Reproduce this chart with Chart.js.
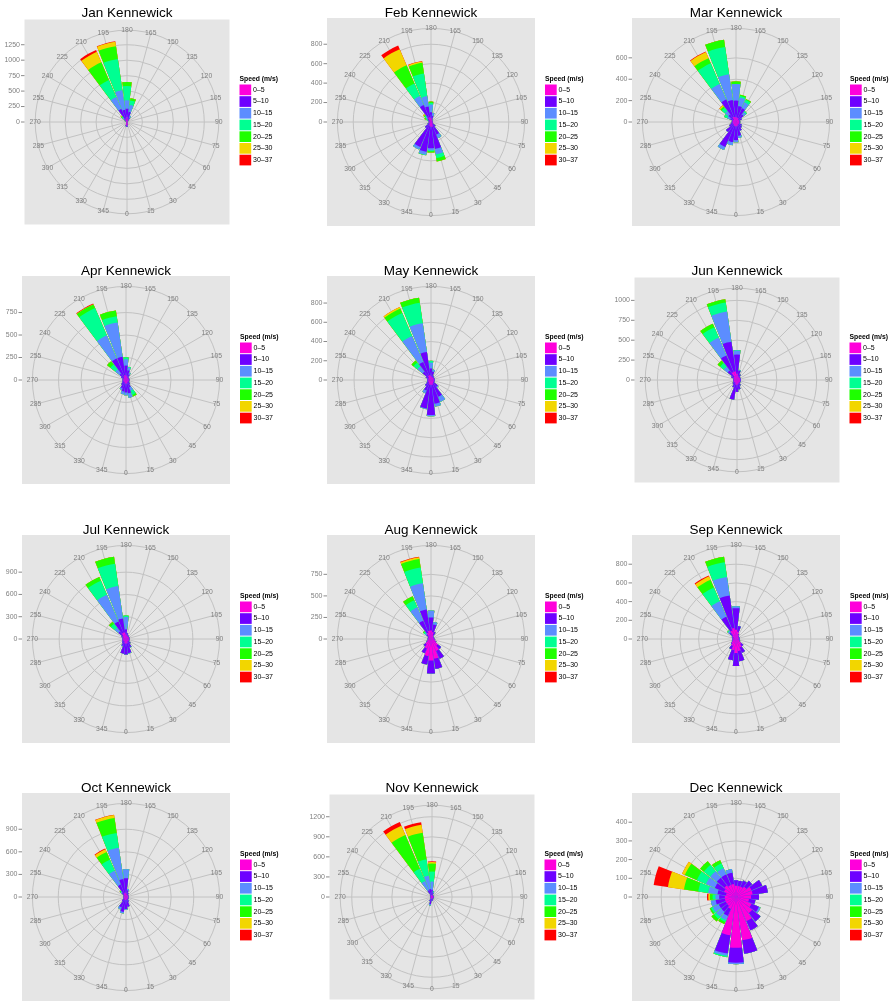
<!DOCTYPE html>
<html>
<head>
<meta charset="utf-8">
<script src="https://cdn.jsdelivr.net/npm/chart.js@4.4.1/dist/chart.umd.min.js"></script>
<style>
html, body { margin: 0; padding: 0; background: #fff; overflow: hidden; }
#page { position: relative; width: 891px; height: 1001px; overflow: hidden; }
#page canvas { position: absolute; }
</style>
</head>
<body>
<div id="page"></div>
<script>
// ---- data ----
var MONTHS = ['Jan','Feb','Mar','Apr','May','Jun','Jul','Aug','Sep','Oct','Nov','Dec'];
var STATION = 'Kennewick';
var DIRECTIONS = [0,15,30,45,60,75,90,105,120,135,150,165,180,195,210,225,240,255,270,285,300,315,330,345];
var SPEED_BINS = ['0–5','5–10','10–15','15–20','20–25','25–30','30–37'];
var SPEED_COLORS = ['#FF00DB','#6E00FF','#5C8DFF','#00FF92','#1EFF00','#F2D600','#FF0000'];
var TICK_STEPS = [250,200,200,250,200,250,300,250,200,300,300,100];

// counts per direction (0..345), one row per speed bin
var JAN = [
  [60,40,15,10,10,10,10,10,10,15,20,40,80,40,50,20,15,10,10,10,10,15,20,50],
  [20,10,5,5,5,5,5,5,5,20,60,127,135,160,180,40,15,5,5,5,5,5,10,20],
  [0,0,0,0,0,0,0,0,0,0,30,112,135,320,210,30,10,0,0,0,0,0,0,0],
  [0,0,0,0,0,0,0,0,0,0,0,72,232,510,300,20,5,0,0,0,0,0,0,0],
  [0,0,0,0,0,0,0,0,0,0,0,39,65,210,310,15,0,0,0,0,0,0,0,0],
  [0,0,0,0,0,0,0,0,0,0,0,0,0,70,185,10,0,0,0,0,0,0,0,0],
  [0,0,0,0,0,0,0,0,0,0,0,0,0,10,33,0,0,0,0,0,0,0,0,0]
];
var FEB = [
  [50,50,30,20,15,15,15,15,15,15,20,25,40,50,50,20,15,15,15,15,20,20,30,40],
  [220,230,110,40,10,5,5,5,5,5,10,40,60,112,140,30,20,10,5,10,20,60,250,270],
  [20,55,40,0,0,0,0,0,0,0,0,30,80,108,100,20,0,0,0,0,0,0,28,30],
  [10,40,0,0,0,0,0,0,0,0,0,0,15,234,140,15,20,0,0,0,0,0,0,5],
  [15,35,0,0,0,0,0,0,0,0,0,0,15,111,206,10,20,0,0,0,0,0,0,0],
  [0,0,0,0,0,0,0,0,0,0,0,0,0,15,180,9,0,0,0,0,0,0,0,0],
  [0,0,0,0,0,0,0,0,0,0,0,0,0,5,40,0,0,0,0,0,0,0,0,0]
];
var MAR = [
  [40,40,30,30,30,30,30,30,30,30,40,40,45,48,50,30,30,30,30,30,30,30,35,40],
  [130,90,60,40,30,10,10,10,30,60,100,110,155,161,179,60,30,10,10,20,40,90,220,150],
  [20,20,0,0,0,0,0,0,0,30,60,80,155,242,158,40,30,0,0,0,0,0,30,30],
  [0,0,0,0,0,0,0,0,0,10,25,15,0,257,210,40,30,0,0,0,0,0,0,0],
  [0,0,0,0,0,0,0,0,0,0,10,12,25,70,53,15,0,0,0,0,0,0,0,0],
  [0,0,0,0,0,0,0,0,0,0,0,0,0,0,62,15,0,0,0,0,0,0,0,0],
  [0,0,0,0,0,0,0,0,0,0,0,0,0,0,6,0,0,0,0,0,0,0,0,0]
];
var APR = [
  [40,40,30,30,30,30,30,30,30,30,30,40,50,55,40,30,30,30,30,30,30,30,30,40],
  [100,110,60,30,10,10,10,10,10,10,40,70,110,206,220,60,30,10,10,10,20,40,70,90],
  [30,50,40,0,0,0,0,0,0,0,20,30,70,385,280,60,0,0,0,0,0,0,20,30],
  [0,0,50,0,0,0,0,0,0,0,0,10,22,70,330,70,0,0,0,0,0,0,0,0],
  [0,0,20,0,0,0,0,0,0,0,0,0,0,66,45,47,0,0,0,0,0,0,0,0],
  [0,0,0,0,0,0,0,0,0,0,0,0,0,0,3,0,0,0,0,0,0,0,0,0],
  [0,0,0,0,0,0,0,0,0,0,0,0,0,0,7,0,0,0,0,0,0,0,0,0]
];
var MAY = [
  [50,50,40,30,30,30,30,30,30,30,30,30,40,50,50,30,30,30,30,30,30,30,40,50],
  [315,200,150,60,10,10,10,10,10,10,20,60,80,245,155,80,30,10,10,10,20,50,80,250],
  [13,30,57,10,0,0,0,0,0,0,0,20,60,302,293,70,0,0,0,0,0,0,30,6],
  [0,0,0,0,0,0,0,0,0,0,0,0,20,214,260,50,0,0,0,0,0,0,0,0],
  [0,0,0,0,0,0,0,0,0,0,0,0,0,54,50,28,0,0,0,0,0,0,0,0],
  [0,0,0,0,0,0,0,0,0,0,0,0,0,0,17,0,0,0,0,0,0,0,0,0],
  [0,0,0,0,0,0,0,0,0,0,0,0,0,0,0,0,0,0,0,0,0,0,0,0]
];
var JUN = [
  [60,50,40,40,40,40,40,40,40,40,40,50,80,110,110,50,40,40,40,40,40,40,40,60],
  [90,70,40,10,10,10,10,10,10,10,40,70,240,377,226,100,40,10,10,10,20,30,60,190],
  [0,0,0,0,0,0,0,0,0,0,0,10,50,381,244,60,0,0,0,0,0,0,0,0],
  [0,0,0,0,0,0,0,0,0,0,0,0,7,115,140,60,0,0,0,0,0,0,0,0],
  [0,0,0,0,0,0,0,0,0,0,0,0,0,42,50,40,0,0,0,0,0,0,0,0],
  [0,0,0,0,0,0,0,0,0,0,0,0,0,0,0,0,0,0,0,0,0,0,0,0],
  [0,0,0,0,0,0,0,0,0,0,0,0,0,0,0,0,0,0,0,0,0,0,0,0]
];
var JUL = [
  [60,60,40,40,40,40,40,40,40,40,40,40,60,90,90,50,40,40,40,40,40,40,40,60],
  [150,130,80,40,10,10,10,10,10,10,20,40,70,189,165,80,30,10,10,10,20,30,60,140],
  [0,10,10,0,0,0,0,0,0,0,0,0,165,443,395,60,0,0,0,0,0,0,10,0],
  [0,0,0,0,0,0,0,0,0,0,0,0,20,303,205,70,0,0,0,0,0,0,0,0],
  [0,0,0,0,0,0,0,0,0,0,0,0,0,95,55,33,0,0,0,0,0,0,0,0],
  [0,0,0,0,0,0,0,0,0,0,0,0,0,0,0,0,0,0,0,0,0,0,0,0],
  [0,0,0,0,0,0,0,0,0,0,0,0,0,0,0,0,0,0,0,0,0,0,0,0]
];
var AUG = [
  [250,230,150,100,60,40,30,30,30,30,50,80,100,100,80,40,30,30,30,30,50,80,120,200],
  [150,120,100,50,10,10,10,10,10,10,40,90,150,245,150,30,10,10,10,10,10,30,60,100],
  [0,0,0,0,0,0,0,0,0,0,0,30,80,308,170,20,0,0,0,0,0,0,0,0],
  [0,0,0,0,0,0,0,0,0,0,0,0,0,185,90,20,0,0,0,0,0,0,0,0],
  [0,0,0,0,0,0,0,0,0,0,0,0,0,99,50,10,0,0,0,0,0,0,0,0],
  [0,0,0,0,0,0,0,0,0,0,0,0,0,20,0,0,0,0,0,0,0,0,0,0],
  [0,0,0,0,0,0,0,0,0,0,0,0,0,8,0,0,0,0,0,0,0,0,0,0]
];
var SEP = [
  [150,130,100,70,40,30,30,30,30,30,50,80,100,120,100,50,30,30,30,30,40,60,80,120],
  [140,110,60,30,10,10,10,10,10,10,10,60,230,350,160,40,20,10,10,10,10,10,40,110],
  [0,0,0,0,0,0,0,0,0,0,0,0,20,200,180,20,0,0,0,0,0,0,0,0],
  [0,0,0,0,0,0,0,0,0,0,0,0,0,160,160,10,0,0,0,0,0,0,0,0],
  [0,0,0,0,0,0,0,0,0,0,0,0,0,60,90,0,0,0,0,0,0,0,0,0],
  [0,0,0,0,0,0,0,0,0,0,0,0,0,0,40,0,0,0,0,0,0,0,0,0],
  [0,0,0,0,0,0,0,0,0,0,0,0,0,0,10,0,0,0,0,0,0,0,0,0]
];
var OCT = [
  [40,30,30,30,30,30,30,30,30,30,30,30,50,60,50,30,30,30,30,30,30,30,40,40],
  [120,100,40,10,10,10,10,10,10,10,30,60,200,180,130,40,10,10,10,10,10,40,110,160],
  [10,0,0,0,0,0,0,0,0,0,0,20,120,420,200,20,0,0,0,0,0,0,30,20],
  [0,0,0,0,0,0,0,0,0,0,0,0,0,200,160,10,0,0,0,0,0,0,0,0],
  [0,0,0,0,0,0,0,0,0,0,0,0,0,200,110,10,0,0,0,0,0,0,0,0],
  [0,0,0,0,0,0,0,0,0,0,0,0,0,40,40,0,0,0,0,0,0,0,0,0],
  [0,0,0,0,0,0,0,0,0,0,0,0,0,5,10,0,0,0,0,0,0,0,0,0]
];
var NOV = [
  [20,20,20,20,20,20,20,20,20,20,20,20,30,30,30,20,20,20,20,20,20,20,20,30],
  [40,30,10,10,10,10,10,10,10,10,10,40,80,90,80,20,10,10,10,10,10,10,50,80],
  [0,0,0,0,0,0,0,0,0,0,0,20,120,200,150,0,0,0,0,0,0,0,0,20],
  [0,0,0,0,0,0,0,0,0,0,0,10,150,250,200,0,0,0,0,0,0,0,0,0],
  [0,0,0,0,0,0,0,0,0,0,0,0,120,400,550,0,0,0,0,0,0,0,0,0],
  [0,0,0,0,0,0,0,0,0,0,0,0,25,120,150,0,0,0,0,0,0,0,0,0],
  [0,0,0,0,0,0,0,0,0,0,0,0,8,40,60,0,0,0,0,0,0,0,0,0]
];
var DEC = [
  [272,234,140,110,90,70,80,90,90,70,60,60,60,70,70,79,70,54,60,60,60,60,70,207],
  [80,73,54,57,43,35,43,82,63,40,36,28,30,61,61,52,53,46,30,50,40,40,40,99],
  [8,0,0,0,10,0,0,0,0,0,0,0,0,20,36,44,52,50,20,26,35,35,25,12],
  [0,0,0,0,0,0,0,0,0,0,0,0,0,0,29,44,53,54,15,0,10,15,10,7],
  [0,0,0,0,0,0,0,0,0,0,0,0,0,0,18,25,70,77,15,0,8,17,13,0],
  [0,0,0,0,0,0,0,0,0,0,0,0,0,0,0,0,16,87,8,0,0,0,0,0],
  [0,0,0,0,0,0,0,0,0,0,0,0,0,0,0,0,0,77,7,0,0,0,0,0]
];
var MONTH_DATA = [JAN,FEB,MAR,APR,MAY,JUN,JUL,AUG,SEP,OCT,NOV,DEC];

// ---- layout ----
var PANEL_RIGHT = [230, 535, 840];
var PANEL_CY = [122.3, 380.6, 639, 897.5];
var BAR_SPAN = 13.5, GAP_SPAN = 1.5;
var BG = '#e5e5e5', GRID = '#c2c2c2', AXIS_TEXT = '#7f7f7f';
var FONT = '"Liberation Sans", Arial, Helvetica, sans-serif';

// running totals, so each layer can be drawn over the next larger one
function cumulative(rows){
  var out = [], run = DIRECTIONS.map(function(){return 0;});
  rows.forEach(function(r){
    run = run.map(function(v,i){return v + r[i];});
    out.push(run.slice());
  });
  return out;
}

// polarArea walks clockwise from the bottom: 0, 345, 330 ... 15, with a gap slot after each bar
function clockwise(values){
  var out = [];
  for(var k=0;k<DIRECTIONS.length;k++){
    out.push(values[(DIRECTIONS.length - k) % DIRECTIONS.length]);
    out.push(0);
  }
  return out;
}

var rosePlugin = {
  id: 'rose',
  beforeDraw: function(chart, args, o){
    var ctx = chart.ctx, s = chart.scales.r;
    var half = o.side/2, left = s.xCenter - half, top = s.yCenter - half;
    ctx.save();
    ctx.fillStyle = BG;
    ctx.fillRect(left, top, o.side, o.side);

    // title
    ctx.fillStyle = '#000';
    ctx.font = '13.5px ' + FONT;
    ctx.textAlign = 'center';
    ctx.textBaseline = 'alphabetic';
    ctx.fillText(o.title, s.xCenter, s.yCenter - 105.5);

    // r axis on the left edge
    ctx.font = '7px ' + FONT;
    ctx.textAlign = 'right';
    ctx.textBaseline = 'middle';
    ctx.strokeStyle = '#8a8a8a';
    ctx.lineWidth = 1;
    for(var v=0; v<=o.total; v+=o.step){
      var y = s.yCenter - s.getDistanceFromCenterForValue(v);
      ctx.fillStyle = AXIS_TEXT;
      ctx.fillText(String(v), left - 4.5, y);
      ctx.beginPath();
      ctx.moveTo(left - 3.5, y); ctx.lineTo(left, y);
      ctx.stroke();
    }

    // legend
    var lx = left + o.side + 10, ly = s.yCenter - 38, key = 11.7;
    ctx.fillStyle = '#000';
    ctx.textAlign = 'left';
    ctx.textBaseline = 'alphabetic';
    ctx.font = 'bold 6.8px ' + FONT;
    ctx.fillText('Speed (m/s)', lx, ly - 2.6);
    ctx.font = '7px ' + FONT;
    ctx.textBaseline = 'middle';
    SPEED_BINS.forEach(function(b,i){
      ctx.fillStyle = SPEED_COLORS[i];
      ctx.fillRect(lx, ly + i*key + 0.5, key, key - 1);
      ctx.fillStyle = '#000';
      ctx.fillText(b, lx + 13.5, ly + i*key + key/2);
    });
    ctx.restore();
  },
  beforeDatasetsDraw: function(chart, args, o){
    var ctx = chart.ctx, s = chart.scales.r;
    var outer = s.getDistanceFromCenterForValue(o.total*1.125);
    var shift = BAR_SPAN/2*Math.PI/180;
    ctx.save();
    ctx.strokeStyle = GRID;
    ctx.lineWidth = 1;
    // rings at the r breaks inside the data range, plus the outer ring
    var rings = [];
    for(var v=o.step; v<=o.total; v+=o.step) rings.push(s.getDistanceFromCenterForValue(v));
    rings.push(outer);
    rings.forEach(function(r){
      ctx.beginPath();
      ctx.arc(s.xCenter, s.yCenter, r, 0, Math.PI*2);
      ctx.stroke();
    });
    for(var k=0;k<DIRECTIONS.length;k++){
      var p = s.getPointPosition(k*2, outer, shift);
      ctx.beginPath();
      ctx.moveTo(s.xCenter, s.yCenter);
      ctx.lineTo(p.x, p.y);
      ctx.stroke();
    }
    ctx.restore();
  },
  afterDatasetsDraw: function(chart, args, o){
    var ctx = chart.ctx, s = chart.scales.r;
    var outer = s.getDistanceFromCenterForValue(o.total*1.125);
    var shift = BAR_SPAN/2*Math.PI/180;
    ctx.save();
    ctx.fillStyle = AXIS_TEXT;
    ctx.font = '6.8px ' + FONT;
    ctx.textAlign = 'center';
    ctx.textBaseline = 'middle';
    for(var k=0;k<DIRECTIONS.length;k++){
      var p = s.getPointPosition(k*2, outer, shift);
      ctx.fillText(String(DIRECTIONS[(DIRECTIONS.length - k) % DIRECTIONS.length]), p.x, p.y);
    }
    ctx.restore();
  }
};

var page = document.getElementById('page');

MONTHS.forEach(function(m, idx){
  var col = idx % 3, row = Math.floor(idx / 3);
  var rows = MONTH_DATA[idx];
  var cum = cumulative(rows);
  var totals = cum[cum.length - 1];
  var total = Math.max.apply(null, totals);
  var step = TICK_STEPS[idx];
  var topTick = Math.floor(total/step)*step;
  var side = String(topTick).length >= 4 ? 205 : 208;

  var cw = 300, ch = 258;
  var cLeft = PANEL_RIGHT[col] - 230;
  var cTop = Math.round(PANEL_CY[row]) - 122;
  var cy = PANEL_CY[row] - cTop;

  var canvas = document.createElement('canvas');
  canvas.width = cw; canvas.height = ch;
  canvas.style.left = cLeft + 'px';
  canvas.style.top = cTop + 'px';
  canvas.style.width = cw + 'px';
  canvas.style.height = ch + 'px';
  page.appendChild(canvas);

  var labels = [];
  clockwise(DIRECTIONS).forEach(function(d,i){ labels.push(i % 2 ? '' : String(d)); });

  var datasets = cum.map(function(vals, j){
    return {
      label: SPEED_BINS[j],
      data: clockwise(vals),
      backgroundColor: SPEED_COLORS[j],
      borderWidth: 0,
      angle: function(c){ return c.dataIndex % 2 ? GAP_SPAN : BAR_SPAN; }
    };
  });

  new Chart(canvas, {
    type: 'polarArea',
    data: { labels: labels, datasets: datasets },
    options: {
      responsive: false,
      animation: false,
      devicePixelRatio: 1,
      events: [],
      layout: { padding: {
        left: 230 - side,
        right: cw - 230,
        top: cy - side/2,
        bottom: ch - cy - side/2
      }},
      scales: {
        r: {
          min: 0,
          max: total*1.25,
          startAngle: 180 - BAR_SPAN/2,
          ticks: { display: false, stepSize: step },
          grid: { display: false },
          angleLines: { display: false },
          pointLabels: { display: false }
        }
      },
      plugins: {
        legend: { display: false },
        tooltip: { enabled: false },
        rose: { title: m + ' ' + STATION, total: total, step: step, side: side }
      }
    },
    plugins: [rosePlugin]
  });
});
</script>
</body>
</html>
